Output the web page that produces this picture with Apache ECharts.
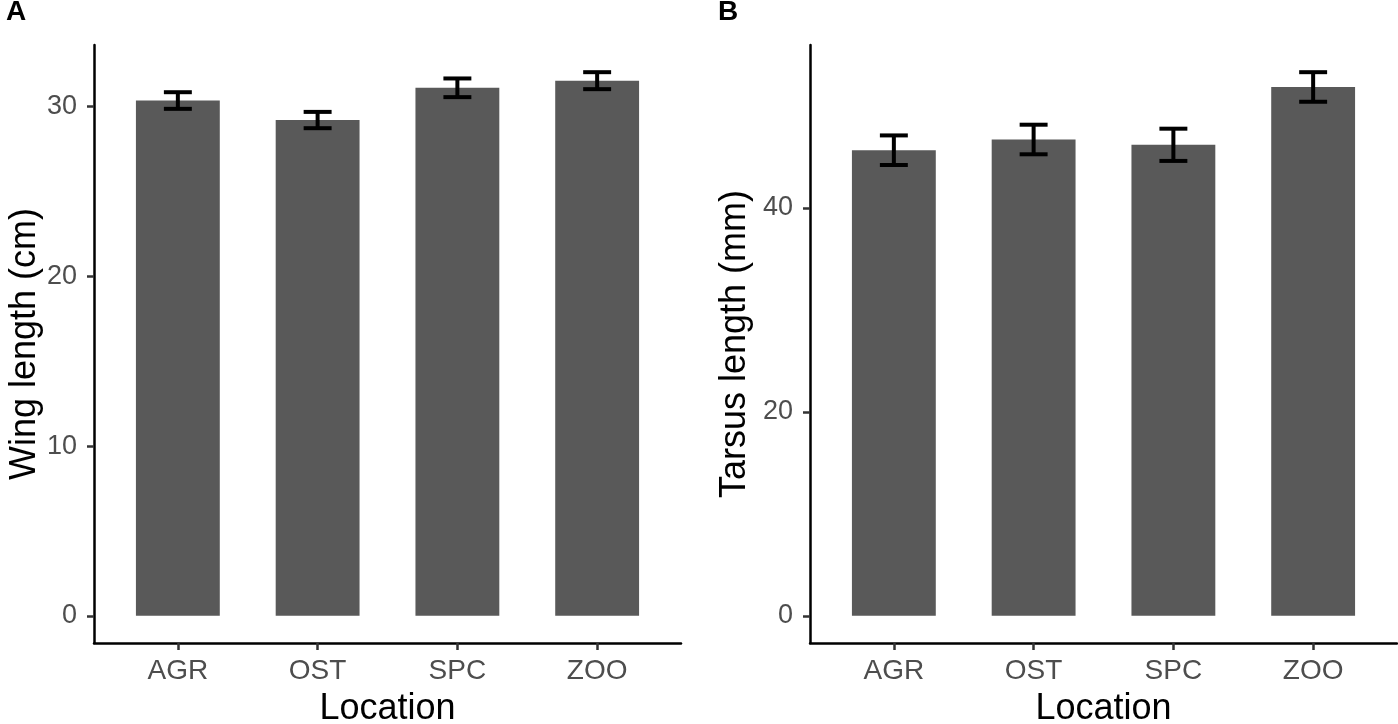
<!DOCTYPE html>
<html>
<head>
<meta charset="utf-8">
<title>Wing and tarsus length by location</title>
<script src="https://cdn.jsdelivr.net/npm/echarts@6/dist/echarts.min.js"></script>
<style>
    html, body { margin: 0; padding: 0; background: #fff; }
    #chart { width: 1398px; height: 724px; }
</style>
</head>
<body>
<div id="chart"></div>
<script>
// data (mean and standard error per location)
var locations = ['AGR', 'OST', 'SPC', 'ZOO'];
var wingMean = [30.36, 29.21, 31.11, 31.53];
var wingSe = [0.49, 0.48, 0.55, 0.50];
var tarsusMean = [45.65, 46.70, 46.18, 51.85];
var tarsusSe = [1.45, 1.45, 1.58, 1.45];
var wingTicks = [0, 10, 20, 30];
var tarsusTicks = [0, 20, 40];
var locationTicks = [1, 2, 3, 4];

var FONT = '"Liberation Sans", Arial, Helvetica, sans-serif';
var CAP_WIDTH = 0.2;   // error bar cap width, in x units
var BAR_COLOR = '#595959';

//bar data on a numeric x axis, 1..n
function getBarData(means) {
    var list = [];
    for (var i = 0, len = means.length; i < len; i++) {
        list.push([i + 1, means[i]]);
    }
    return list;
}

//error bar data: [x, low, high]
function getErrorData(means, ses) {
    var list = [];
    for (var i = 0, len = means.length; i < len; i++) {
        list.push([i + 1, means[i] - ses[i], means[i] + ses[i]]);
    }
    return list;
}

//ggplot-like 5% expansion of the y range
function getYRange(means, ses) {
    var top = 0;
    for (var i = 0; i < means.length; i++) {
        top = Math.max(top, means[i] + ses[i]);
    }
    return { min: -top * 0.05, max: top * 1.05 };
}

function renderErrorBar(params, api) {
    var x = api.value(0),
        top = api.coord([x, api.value(2)]),
        bottom = api.coord([x, api.value(1)]),
        half = api.size([CAP_WIDTH, 0])[0] / 2;

    function seg(x1, y1, x2, y2) {
        return {
            type: 'line',
            shape: { x1: x1, y1: y1, x2: x2, y2: y2 },
            style: { stroke: '#000', lineWidth: 4, lineCap: 'butt' }
        };
    }

    return {
        type: 'group',
        children: [
            seg(top[0] - half, top[1], top[0] + half, top[1]),
            seg(top[0], top[1], bottom[0], bottom[1]),
            seg(bottom[0] - half, bottom[1], bottom[0] + half, bottom[1])
        ]
    };
}

function makeXAxis(gridIndex) {
    return {
        type: 'value',
        gridIndex: gridIndex,
        min: 0.4,
        max: 4.6,
        name: 'Location',
        nameLocation: 'middle',
        nameGap: 48,
        nameTextStyle: { fontFamily: FONT, fontSize: 36, color: '#000' },
        axisLine: { show: true, onZero: false, lineStyle: { color: '#000', width: 2.5 } },
        axisTick: { show: true, customValues: locationTicks, length: 7, lineStyle: { color: '#333', width: 2.5 } },
        axisLabel: {
            customValues: locationTicks,
            margin: 14,
            fontFamily: FONT,
            fontSize: 28,
            color: '#4D4D4D',
            formatter: function (v) { return locations[Math.round(v) - 1]; }
        },
        splitLine: { show: false }
    };
}

function makeYAxis(gridIndex, name, range, ticks, gap) {
    return {
        type: 'value',
        gridIndex: gridIndex,
        min: range.min,
        max: range.max,
        name: name,
        nameLocation: 'middle',
        nameGap: gap,
        nameTextStyle: { fontFamily: FONT, fontSize: 36, color: '#000' },
        axisLine: { show: true, onZero: false, lineStyle: { color: '#000', width: 2.5 } },
        axisTick: { show: true, customValues: ticks, length: 7, lineStyle: { color: '#333', width: 2.5 } },
        axisLabel: {
            customValues: ticks,
            margin: 17,
            fontFamily: FONT,
            fontSize: 27,
            color: '#4D4D4D'
        },
        splitLine: { show: false }
    };
}

function getOption() {
    var option = {
        animation: false,
        backgroundColor: '#fff',
        title: [
            { text: 'A', left: 6, top: -2, padding: 0, textStyle: { fontFamily: FONT, fontSize: 28, fontWeight: 'bold', color: '#000' } },
            { text: 'B', left: 718, top: -2, padding: 0, textStyle: { fontFamily: FONT, fontSize: 28, fontWeight: 'bold', color: '#000' } }
        ],
        grid: [
            { left: 94, top: 45, width: 587, height: 598, outerBoundsMode: 'none' },
            { left: 810, top: 45, width: 587, height: 598, outerBoundsMode: 'none' }
        ],
        xAxis: [makeXAxis(0), makeXAxis(1)],
        yAxis: [
            makeYAxis(0, 'Wing length (cm)', getYRange(wingMean, wingSe), wingTicks, 46),
            makeYAxis(1, 'Tarsus length (mm)', getYRange(tarsusMean, tarsusSe), tarsusTicks, 57)
        ],
        series: [
            {
                type: 'bar', xAxisIndex: 0, yAxisIndex: 0,
                barWidth: '60%',
                itemStyle: { color: BAR_COLOR },
                data: getBarData(wingMean)
            },
            {
                type: 'custom', xAxisIndex: 0, yAxisIndex: 0,
                renderItem: renderErrorBar,
                z: 3,
                data: getErrorData(wingMean, wingSe)
            },
            {
                type: 'bar', xAxisIndex: 1, yAxisIndex: 1,
                barWidth: '60%',
                itemStyle: { color: BAR_COLOR },
                data: getBarData(tarsusMean)
            },
            {
                type: 'custom', xAxisIndex: 1, yAxisIndex: 1,
                renderItem: renderErrorBar,
                z: 3,
                data: getErrorData(tarsusMean, tarsusSe)
            }
        ]
    };

    return option;
}

var chart = echarts.init(document.getElementById('chart'));
chart.setOption(getOption());
</script>
</body>
</html>
